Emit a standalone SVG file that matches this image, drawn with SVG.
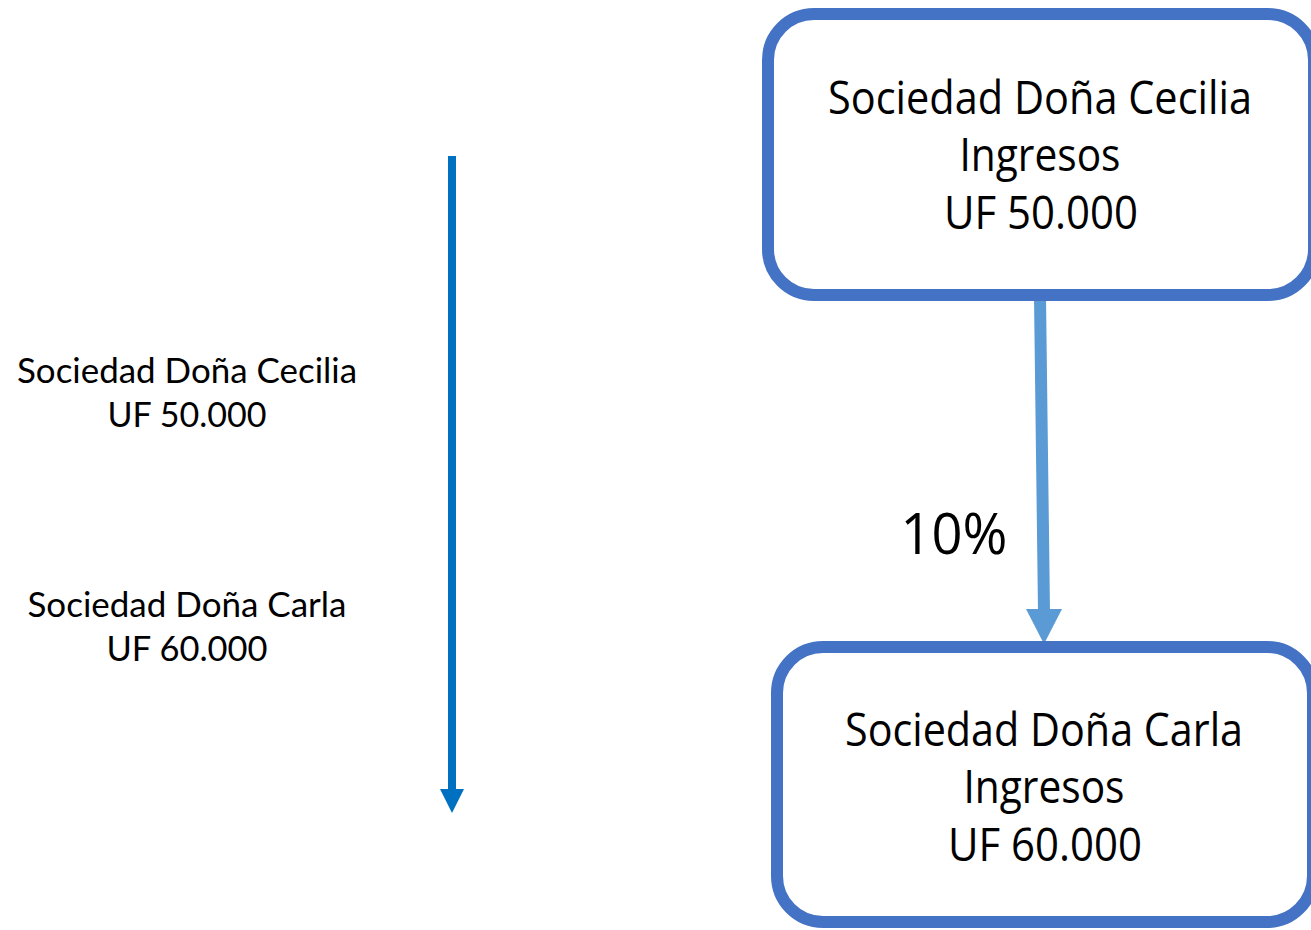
<svg xmlns="http://www.w3.org/2000/svg" width="1311" height="930" viewBox="0 0 1311 930">
<style>
.box{fill:#fff;stroke:#4472C4;stroke-width:12}
.bt{font-family:"Open Sans","Noto Sans","Liberation Sans",sans-serif;font-size:46px;fill:#000;text-anchor:middle}
.lt{font-family:"Lato","Noto Sans","Liberation Sans",sans-serif;font-size:34px;fill:#000;text-anchor:middle}
</style>
<rect width="1311" height="930" fill="#fff"/>
<g id="connectors">
<line x1="452" y1="156" x2="452" y2="792" stroke="#0070C0" stroke-width="8"/>
<polygon points="440,789 464,789 452,813" fill="#0070C0"/>
<line x1="1040" y1="297" x2="1044" y2="612" stroke="#5B9BD5" stroke-width="12"/>
<polygon points="1026,609 1062,609 1044,644" fill="#5B9BD5"/>
<text x="954" y="554" style="font-family:'Open Sans','Noto Sans',sans-serif;font-size:56px;text-anchor:middle" textLength="107" lengthAdjust="spacingAndGlyphs">10%</text>
</g>
<g id="node-cecilia">
<rect class="box" x="768" y="14" width="546" height="281" rx="46"/>
<text class="bt" x="1040" y="114" textLength="424" lengthAdjust="spacingAndGlyphs">Sociedad Doña Cecilia</text>
<text class="bt" x="1040" y="171" textLength="161" lengthAdjust="spacingAndGlyphs">Ingresos</text>
<text class="bt" x="1041" y="229" textLength="194" lengthAdjust="spacingAndGlyphs">UF 50.000</text>
</g>
<g id="node-carla">
<rect class="box" x="777" y="647" width="536" height="275" rx="46"/>
<text class="bt" x="1044" y="746" textLength="398" lengthAdjust="spacingAndGlyphs">Sociedad Doña Carla</text>
<text class="bt" x="1044" y="803" textLength="161" lengthAdjust="spacingAndGlyphs">Ingresos</text>
<text class="bt" x="1045" y="861" textLength="194" lengthAdjust="spacingAndGlyphs">UF 60.000</text>
</g>
<g id="left-labels">
<text class="lt" x="187" y="383" textLength="340" lengthAdjust="spacingAndGlyphs">Sociedad Doña Cecilia</text>
<text class="lt" x="187" y="427" textLength="159" lengthAdjust="spacingAndGlyphs">UF 50.000</text>
<text class="lt" x="187" y="617" textLength="319" lengthAdjust="spacingAndGlyphs">Sociedad Doña Carla</text>
<text class="lt" x="187" y="661" textLength="161" lengthAdjust="spacingAndGlyphs">UF 60.000</text>
</g>
</svg>
